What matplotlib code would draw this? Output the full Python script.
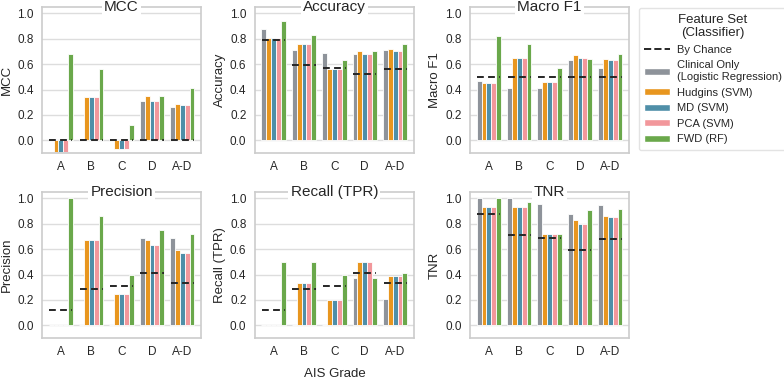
import numpy as np
import matplotlib
matplotlib.use("Agg")
import matplotlib.pyplot as plt
from matplotlib.patches import Patch
from matplotlib.lines import Line2D

plt.rcParams["font.family"] = ["Liberation Sans", "DejaVu Sans"]

# === data ===
grades = ["A", "B", "C", "D", "A-D"]
series = ["Clinical Only\n(Logistic Regression)", "Hudgins (SVM)", "MD (SVM)",
          "PCA (SVM)", "FWD (RF)"]
colors = ["#8e939a", "#e8961f", "#4f8fa8", "#f2979b", "#6aa84b"]

# rows: clinical, hudgins, md, pca, fwd
mcc = [[0.00, 0.00, 0.00, 0.31, 0.26],
       [-0.09, 0.34, -0.07, 0.35, 0.29],
       [-0.09, 0.34, -0.07, 0.31, 0.28],
       [-0.09, 0.34, -0.07, 0.31, 0.28],
       [0.68, 0.56, 0.12, 0.35, 0.41]]
mcc_chance = [0.0, 0.0, 0.0, 0.0, 0.0]

accuracy = [[0.88, 0.71, 0.69, 0.68, 0.71],
            [0.81, 0.76, 0.56, 0.70, 0.72],
            [0.81, 0.76, 0.56, 0.68, 0.70],
            [0.81, 0.76, 0.56, 0.68, 0.70],
            [0.94, 0.83, 0.63, 0.70, 0.76]]
accuracy_chance = [0.79, 0.59, 0.57, 0.52, 0.56]

macro_f1 = [[0.47, 0.41, 0.41, 0.63, 0.57],
            [0.45, 0.65, 0.46, 0.67, 0.64],
            [0.45, 0.65, 0.46, 0.65, 0.63],
            [0.45, 0.65, 0.46, 0.65, 0.63],
            [0.82, 0.76, 0.57, 0.64, 0.68]]
macro_f1_chance = [0.5, 0.5, 0.5, 0.5, 0.5]

precision = [[0.00, 0.00, 0.00, 0.69, 0.69],
             [0.00, 0.67, 0.25, 0.67, 0.59],
             [0.00, 0.67, 0.25, 0.63, 0.57],
             [0.00, 0.67, 0.25, 0.63, 0.57],
             [1.00, 0.86, 0.40, 0.75, 0.72]]
precision_chance = [0.12, 0.29, 0.31, 0.41, 0.33]

recall = [[0.00, 0.00, 0.00, 0.375, 0.21],
          [0.00, 0.33, 0.20, 0.50, 0.39],
          [0.00, 0.33, 0.20, 0.50, 0.39],
          [0.00, 0.33, 0.20, 0.50, 0.39],
          [0.50, 0.50, 0.40, 0.375, 0.41]]
recall_chance = [0.12, 0.29, 0.31, 0.41, 0.33]

tnr = [[1.00, 1.00, 0.96, 0.88, 0.95],
       [0.93, 0.93, 0.72, 0.83, 0.865],
       [0.93, 0.93, 0.72, 0.80, 0.855],
       [0.93, 0.93, 0.72, 0.80, 0.855],
       [1.00, 0.97, 0.72, 0.91, 0.92]]
tnr_chance = [0.875, 0.71, 0.69, 0.59, 0.68]

panels = [("MCC", mcc, mcc_chance),
          ("Accuracy", accuracy, accuracy_chance),
          ("Macro F1", macro_f1, macro_f1_chance),
          ("Precision", precision, precision_chance),
          ("Recall (TPR)", recall, recall_chance),
          ("TNR", tnr, tnr_chance)]

text_col = "#262626"
spine_col = "#cccccc"

fig = plt.figure(figsize=(7.84, 3.85), dpi=100)
lefts = [0.0536, 0.325, 0.5995]
bottoms = [0.6026, 0.122]
w, h = 0.203, 0.379

x = np.arange(len(grades))
bw = 0.16

for i, (name, vals, chance) in enumerate(panels):
    ax = fig.add_axes([lefts[i % 3], bottoms[i // 3], w, h])
    for j, row in enumerate(vals):
        ax.bar(x + (j - 2) * bw, row, width=bw, color=colors[j],
               edgecolor="white", linewidth=0.6, zorder=2)
    for k, c in enumerate(chance):
        ax.plot([x[k] - 0.38, x[k] + 0.38], [c, c], ls=(0, (3.5, 2.2)),
                color="#262626", lw=1.4, zorder=3)
    ax.set_ylim(-0.1, 1.05)
    ax.set_xlim(-0.62, 4.62)
    ax.set_yticks(np.arange(0, 1.01, 0.2))
    ax.set_yticklabels([f"{t:.1f}" for t in np.arange(0, 1.01, 0.2)])
    ax.set_xticks(x)
    ax.set_xticklabels(grades)
    ax.grid(axis="y", color="#dddddd", lw=1.0, zorder=0)
    ax.set_axisbelow(True)
    ax.tick_params(length=0, labelsize=8.5, colors=text_col, pad=6)
    for s in ax.spines.values():
        s.set_color(spine_col)
        s.set_linewidth(1.2)
    ax.set_ylabel(name, fontsize=9.5, color=text_col, labelpad=3)
    ax.set_title(name, fontsize=11, color=text_col, y=1.0, pad=0,
                 va="center", bbox=dict(facecolor="white", edgecolor="none", pad=1.5))
    if i == 4:
        ax.set_xlabel("AIS Grade", fontsize=9.5, color=text_col, labelpad=7)

handles = [Line2D([0], [0], ls="--", color="#262626", lw=1.4)]
handles += [Patch(facecolor=c, edgecolor="white") for c in colors]
leg = fig.legend(handles, ["By Chance"] + series, loc="upper left",
                 bbox_to_anchor=(0.812, 0.985), fontsize=8,
                 title="Feature Set\n(Classifier)", title_fontsize=9.5,
                 frameon=True, handlelength=2.3, handleheight=0.6,
                 labelspacing=0.5, borderpad=0.5, handletextpad=0.6,
                 borderaxespad=0.2)
leg.get_frame().set_edgecolor("#dddddd")
leg.get_title().set_color(text_col)
leg.get_title().set_multialignment("center")
for t in leg.get_texts():
    t.set_color(text_col)

fig.savefig("out.png", dpi=100)
